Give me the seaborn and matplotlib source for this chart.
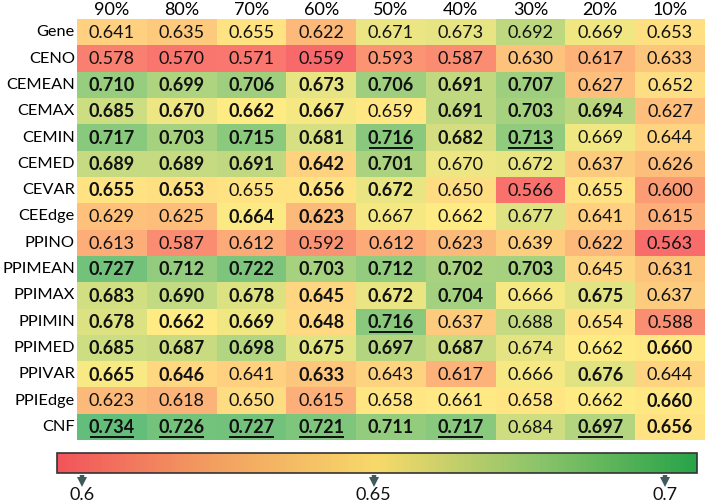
import numpy as np
import pandas as pd
import seaborn as sns
import matplotlib.pyplot as plt
from matplotlib.colors import LinearSegmentedColormap, TwoSlopeNorm, Normalize
from matplotlib.cm import ScalarMappable

rows = ["Gene", "CENO", "CEMEAN", "CEMAX", "CEMIN", "CEMED", "CEVAR", "CEEdge",
        "PPINO", "PPIMEAN", "PPIMAX", "PPIMIN", "PPIMED", "PPIVAR", "PPIEdge", "CNF"]
cols = ["90%", "80%", "70%", "60%", "50%", "40%", "30%", "20%", "10%"]

gene = [0.641, 0.635, 0.655, 0.622, 0.671, 0.673, 0.692, 0.669, 0.653]
ceno = [0.578, 0.570, 0.571, 0.559, 0.593, 0.587, 0.630, 0.617, 0.633]
cemean = [0.710, 0.699, 0.706, 0.673, 0.706, 0.691, 0.707, 0.627, 0.652]
cemax = [0.685, 0.670, 0.662, 0.667, 0.659, 0.691, 0.703, 0.694, 0.627]
cemin = [0.717, 0.703, 0.715, 0.681, 0.716, 0.682, 0.713, 0.669, 0.644]
cemed = [0.689, 0.689, 0.691, 0.642, 0.701, 0.670, 0.672, 0.637, 0.626]
cevar = [0.655, 0.653, 0.655, 0.656, 0.672, 0.650, 0.566, 0.655, 0.600]
ceedge = [0.629, 0.625, 0.664, 0.623, 0.667, 0.662, 0.677, 0.641, 0.615]
ppino = [0.613, 0.587, 0.612, 0.592, 0.612, 0.623, 0.639, 0.622, 0.563]
ppimean = [0.727, 0.712, 0.722, 0.703, 0.712, 0.702, 0.703, 0.645, 0.631]
ppimax = [0.683, 0.690, 0.678, 0.645, 0.672, 0.704, 0.666, 0.675, 0.637]
ppimin = [0.678, 0.662, 0.669, 0.648, 0.716, 0.637, 0.688, 0.654, 0.588]
ppimed = [0.685, 0.687, 0.698, 0.675, 0.697, 0.687, 0.674, 0.662, 0.660]
ppivar = [0.665, 0.646, 0.641, 0.633, 0.643, 0.617, 0.666, 0.676, 0.644]
ppiedge = [0.623, 0.618, 0.650, 0.615, 0.658, 0.661, 0.658, 0.662, 0.660]
cnf = [0.734, 0.726, 0.727, 0.721, 0.711, 0.717, 0.684, 0.697, 0.656]

# 1 = bold, 2 = bold + underline
emph = [
    [0, 0, 0, 0, 0, 0, 0, 0, 0],
    [0, 0, 0, 0, 0, 0, 0, 0, 0],
    [1, 1, 1, 1, 1, 1, 1, 0, 0],
    [1, 1, 1, 1, 0, 1, 1, 1, 0],
    [1, 1, 1, 1, 2, 1, 2, 0, 0],
    [1, 1, 1, 1, 1, 0, 0, 0, 0],
    [1, 1, 0, 1, 1, 0, 0, 0, 0],
    [0, 0, 1, 1, 0, 0, 0, 0, 0],
    [0, 0, 0, 0, 0, 0, 0, 0, 0],
    [1, 1, 1, 1, 1, 1, 1, 0, 0],
    [1, 1, 1, 1, 1, 1, 0, 1, 0],
    [1, 1, 1, 1, 2, 0, 0, 0, 0],
    [1, 1, 1, 1, 1, 1, 0, 0, 1],
    [1, 1, 0, 1, 0, 0, 0, 1, 0],
    [0, 0, 0, 0, 0, 0, 0, 0, 1],
    [2, 2, 2, 2, 1, 2, 0, 2, 1],
]

cbar_ticks = [0.6, 0.65, 0.7]

df = pd.DataFrame([gene, ceno, cemean, cemax, cemin, cemed, cevar, ceedge,
                   ppino, ppimean, ppimax, ppimin, ppimed, ppivar, ppiedge, cnf],
                  index=rows, columns=cols)

plt.rcParams['font.family'] = ['Lato', 'DejaVu Sans']

cell_cmap = LinearSegmentedColormap.from_list("excel", ["#F8696B", "#FFEB84", "#63BE7B"])
vals = df.values
norm = TwoSlopeNorm(vmin=vals.min(), vcenter=np.median(vals), vmax=vals.max())

fig = plt.figure(figsize=(7.07, 5.03), dpi=100)
ax = fig.add_axes([0.109, 0.125, 0.888, 0.837])
sns.heatmap(df, ax=ax, cmap=cell_cmap, norm=norm, cbar=False, annot=False)

for i in range(len(rows)):
    for j in range(len(cols)):
        e = emph[i][j]
        ax.text(j + 0.5, i + 0.53, f"{vals[i, j]:.3f}", ha='center', va='center',
                fontsize=13, fontweight='bold' if e else 'normal', color='#111111')
        if e == 2:
            ax.plot([j + 0.18, j + 0.82], [i + 0.9, i + 0.9], color='#111111', lw=1.4,
                    solid_capstyle='butt')

ax.xaxis.tick_top()
ax.tick_params(axis='x', length=0, labelsize=13, pad=1)
ax.tick_params(axis='y', length=0, labelsize=11.8, pad=1.5)
ax.set_xticklabels(cols, rotation=0)
ax.set_yticklabels(rows, rotation=0)
ax.set_xlabel('')
ax.set_ylabel('')

# colour bar
bar_cmap = LinearSegmentedColormap.from_list("bar", ["#F2545B", "#F2A160", "#F7D96A", "#8CC46A", "#27A348"])
cax = fig.add_axes([0.081, 0.06, 0.905, 0.040])
sm = ScalarMappable(norm=Normalize(vmin=0.5957, vmax=0.7055), cmap=bar_cmap)
cb = fig.colorbar(sm, cax=cax, orientation='horizontal')
cb.outline.set_edgecolor('#333333')
cb.outline.set_linewidth(1.2)
cb.set_ticks([])
trans = cax.get_xaxis_transform()
for t in cbar_ticks:
    cax.plot([t, t], [-0.12, -0.38], color='#3E5A5A', lw=3.2, solid_capstyle='butt',
             transform=trans, clip_on=False)
    cax.plot([t], [-0.45], marker='v', markersize=7.5, color='#3E5A5A', markeredgewidth=0,
             transform=trans, clip_on=False)
    fig.text(cax.get_position().x0 + (t - 0.5957) / (0.7055 - 0.5957) * cax.get_position().width,
             0.0, f"{t:g}", ha='center', va='bottom', fontsize=13, color='#111111')

fig.savefig("out.png", dpi=100)
plt.close(fig)
